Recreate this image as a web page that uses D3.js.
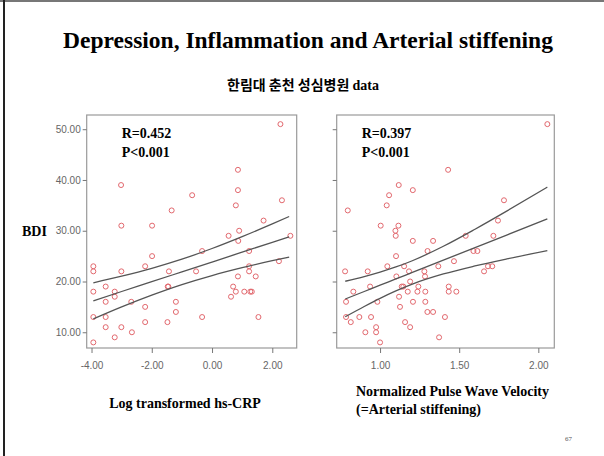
<!DOCTYPE html>
<html>
<head>
<meta charset="utf-8">
<script src="https://cdn.jsdelivr.net/npm/d3@7"></script>
<style>
  body { margin: 0; background: #fff; }
  svg { display: block; }
  .tick text { font-family: "Liberation Sans", Arial, sans-serif; font-size: 10px; fill: #666; }
  .tick line { stroke: #777; }
</style>
</head>
<body>
<svg id="chart"></svg>
<script>
// left panel: log transformed hs-CRP vs BDI
const crp = [2.27, 0.86, 0.86, 0.79, 2.32, -3.02, -0.66, -1.34, 1.71, -3.01, -1.99, 2.6, 0.55, 0.9, 0.87,
  -1.99, -0.33, 1.23, -3.94, -3.94, -3.01, -2.22, -1.43, -0.53, 1.23, 1.23, 1.45, 0.86, 2.22,
  -3.53, -1.45, -1.47, -3.94, -3.23, -3.23, -3.53, -2.68, -1.2, 0.7, 0.79, 1.07, 1.27, 1.32, 0.63,
  -3.94, -3.53, -2.22, -1.2, -0.33, 1.54, -3.53, -3.01, -2.22, -1.48, -2.66, -3.23, -3.94];
const bdiL = [51, 42, 38, 35, 36, 39, 37, 34, 32, 31, 31, 29, 29, 30, 28,
  25, 26, 26, 23, 22, 22, 23, 22, 22, 23, 22, 21, 21, 24,
  19, 19, 19, 18, 18, 17, 16, 16, 16, 19, 18, 18, 18, 18, 17,
  13, 13, 15, 14, 13, 13, 11, 11, 12, 12, 10, 9, 8];

// right panel: normalized PWV vs BDI
const pwv = [2.057, 1.43, 1.118, 1.207, 1.057, 1.042, 0.796, 1.783, 1.745, 1.004, 1.116, 1.097, 1.099,
  1.207, 1.335, 1.541, 1.716, 1.3, 1.59, 1.615, 1.101, 0.779, 0.922, 1.046, 1.152, 1.183, 1.103,
  1.28, 1.284, 1.368, 1.467, 1.682, 1.709, 1.657, 0.831, 0.937, 1.137, 1.147, 1.19, 1.242, 1.175,
  1.236, 1.286, 1.434, 1.434, 1.482, 0.785, 0.983, 1.12, 1.126, 1.208, 1.286, 1.299, 1.335,
  0.785, 0.815, 0.869, 0.943, 1.158, 1.19, 1.41, 0.975, 0.975, 0.907, 1.0, 1.373];
const bdiR = [51, 42, 39, 38, 37, 35, 34, 36, 32, 31, 31, 30, 29,
  28, 28, 29, 29, 26, 26, 26, 25, 22, 22, 23, 23, 22, 21,
  22, 21, 23, 24, 23, 23, 22, 18, 19, 19, 19, 20, 19, 18,
  18, 18, 19, 18, 18, 16, 16, 17, 15, 16, 16, 14, 14,
  13, 12, 13, 13, 12, 11, 13, 11, 10, 10, 8, 9];

// fit line and 95% band
const fitXL = [-3.94, -3, -2, -1, 0, 1, 2, 2.56];
const fitMidL = [16.2, 18.03, 19.96, 21.9, 23.84, 25.78, 27.72, 28.8];
const fitHiL = [19.75, 21.05, 22.6, 24.4, 26.5, 28.84, 31.35, 32.8];
const fitLoL = [12.65, 15.01, 17.32, 19.4, 21.18, 22.72, 24.09, 24.8];

const fitXR = [0.78, 0.9, 1.0, 1.1, 1.2, 1.4, 1.6, 1.8, 2.057];
const fitMidR = [16.55, 18.03, 19.27, 20.5, 21.74, 24.21, 26.68, 29.15, 32.33];
const fitHiR = [20.05, 20.98, 21.86, 22.86, 24.04, 26.94, 30.3, 33.86, 38.59];
const fitLoR = [13.05, 15.08, 16.68, 18.14, 19.44, 21.48, 23.06, 24.44, 26.07];

const yTicks = [10, 20, 30, 40, 50];
const xTicksL = [-4, -2, 0, 2];
const xTicksR = [1, 1.5, 2];

const width = 604, height = 456;
const svg = d3.select("#chart").attr("width", width).attr("height", height);
const serif = "'Liberation Serif', 'Times New Roman', serif";
const fmt = d => d.toFixed(2); // plain hyphen, as in the slide

// slide frame
svg.append("rect").attr("x", 0).attr("y", 0).attr("width", width).attr("height", 2).attr("fill", "#777");
svg.append("rect").attr("x", 3).attr("y", 0).attr("width", 2).attr("height", height).attr("fill", "#222");

svg.append("text")
  .attr("x", 308).attr("y", 48)
  .attr("text-anchor", "middle")
  .style("font-family", serif)
  .style("font-weight", "bold")
  .style("font-size", "23.5px")
  .text("Depression, Inflammation and Arterial stiffening");

svg.append("text")
  .attr("x", 303).attr("y", 90)
  .attr("text-anchor", "middle")
  .style("font-family", "'Noto Sans CJK KR', sans-serif")
  .style("font-weight", "bold")
  .style("font-size", "14px")
  .text("한림대 춘천 성심병원 ")
  .append("tspan")
  .style("font-family", serif)
  .text("data");

const plotTop = 115, plotBottom = 348;
const y = d3.scaleLinear().domain([6.9, 52.8]).range([plotBottom, plotTop]);

function panel(opts) {
  const x = d3.scaleLinear().domain(opts.xDomain).range([opts.left, opts.right]);
  const g = svg.append("g");

  g.append("rect")
    .attr("x", opts.left).attr("y", plotTop)
    .attr("width", opts.right - opts.left).attr("height", plotBottom - plotTop)
    .attr("fill", "#fff").attr("stroke", "#9a9a9a").attr("stroke-width", 1.2);

  const ay = d3.axisLeft(y).tickValues(yTicks).tickSize(4).tickPadding(2)
    .tickFormat(opts.yLabels ? fmt : "");
  g.append("g").attr("transform", `translate(${opts.left},0)`).call(ay)
    .call(s => s.select(".domain").remove());

  const ax = d3.axisBottom(x).tickValues(opts.xTicks).tickSize(5).tickPadding(9)
    .tickFormat(fmt);
  g.append("g").attr("transform", `translate(0,${plotBottom})`).call(ax)
    .call(s => s.select(".domain").remove());

  // scatter
  g.selectAll(".dot")
    .data(opts.xs.map((d, i) => [d, opts.ys[i]]))
    .enter().append("circle")
    .attr("cx", d => x(d[0]))
    .attr("cy", d => y(d[1]))
    .attr("r", 2.5)
    .attr("fill", "none")
    .attr("stroke", "#e2686e")
    .attr("stroke-width", 1);

  // regression + band
  const line = d3.line().x(d => x(d[0])).y(d => y(d[1])).curve(d3.curveMonotoneX);
  [opts.hi, opts.mid, opts.lo].forEach(arr => {
    g.append("path")
      .attr("d", line(opts.fitX.map((d, i) => [d, arr[i]])))
      .attr("fill", "none")
      .attr("stroke", "#555")
      .attr("stroke-width", 1.3);
  });

  const stat = g.append("text")
    .attr("x", opts.left + opts.statDx).attr("y", 138)
    .style("font-family", serif)
    .style("font-weight", "bold")
    .style("font-size", "14px");
  stat.append("tspan").text(opts.r);
  stat.append("tspan").attr("x", opts.left + opts.statDx).attr("dy", 19).text("P<0.001");
}

panel({
  left: 86.7, right: 296.7, xDomain: [-4.16, 2.81], xTicks: xTicksL, yLabels: true,
  xs: crp, ys: bdiL, fitX: fitXL, mid: fitMidL, hi: fitHiL, lo: fitLoL,
  statDx: 35, r: "R=0.452"
});
panel({
  left: 336.7, right: 554.3, xDomain: [0.726, 2.101], xTicks: xTicksR, yLabels: false,
  xs: pwv, ys: bdiR, fitX: fitXR, mid: fitMidR, hi: fitHiR, lo: fitLoR,
  statDx: 25, r: "R=0.397"
});

svg.append("text")
  .attr("x", 22).attr("y", 236)
  .style("font-family", serif).style("font-weight", "bold").style("font-size", "14px")
  .text("BDI");

svg.append("text")
  .attr("x", 185).attr("y", 408)
  .attr("text-anchor", "middle")
  .style("font-family", serif).style("font-weight", "bold").style("font-size", "14px")
  .text("Log transformed hs-CRP");

const xr = svg.append("text")
  .attr("x", 356).attr("y", 396)
  .style("font-family", serif).style("font-weight", "bold").style("font-size", "14px");
xr.append("tspan").text("Normalized Pulse Wave Velocity");
xr.append("tspan").attr("x", 356).attr("dy", 18).text("(=Arterial stiffening)");

svg.append("text")
  .attr("x", 565).attr("y", 441)
  .style("font-family", serif).style("font-size", "7px").style("fill", "#555")
  .text("67");
</script>
</body>
</html>
